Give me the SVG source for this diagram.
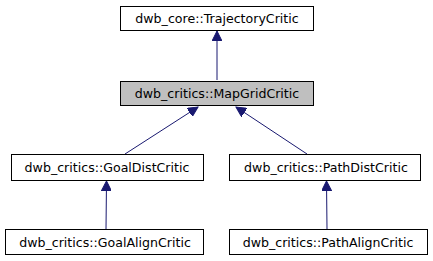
<svg xmlns="http://www.w3.org/2000/svg" width="433" height="261" viewBox="0 0 433 261">
<style>
.n rect{fill:#fff;stroke:#000;stroke-width:1}
.n text{font-family:"DejaVu Sans",sans-serif;font-size:12.6px;fill:#000;text-anchor:middle}
#edges line{stroke:#191970;stroke-width:1}
</style>
<defs>
<marker id="ah" markerWidth="11" markerHeight="10" refX="10" refY="5" orient="auto" markerUnits="userSpaceOnUse">
<path d="M0,0 L10,5 L0,10 Z" fill="#191970" stroke="#191970"/>
</marker>
</defs>
<rect width="433" height="261" fill="#fff"/>
<g id="edges">
<line x1="217" y1="80" x2="217" y2="31" marker-end="url(#ah)"/>
<line x1="125" y1="154" x2="198" y2="107" marker-end="url(#ah)"/>
<line x1="307" y1="154" x2="236" y2="107" marker-end="url(#ah)"/>
<line x1="106" y1="229" x2="106.5" y2="181" marker-end="url(#ah)"/>
<line x1="327" y1="229" x2="326.5" y2="181" marker-end="url(#ah)"/>
</g>
<g id="n_trajectory" class="n"><rect x="120.5" y="6.5" width="193" height="24"/><text x="217" y="23">dwb_core::TrajectoryCritic</text></g>
<g id="n_mapgrid" class="n"><rect x="120.5" y="81.5" width="193" height="24" style="fill:#bfbfbf"/><text x="217" y="98">dwb_critics::MapGridCritic</text></g>
<g id="n_goaldist" class="n"><rect x="11.5" y="154.5" width="192" height="26"/><text x="107" y="172">dwb_critics::GoalDistCritic</text></g>
<g id="n_pathdist" class="n"><rect x="229.5" y="154.5" width="191" height="26"/><text x="326" y="172">dwb_critics::PathDistCritic</text></g>
<g id="n_goalalign" class="n"><rect x="5.5" y="229.5" width="198" height="25"/><text x="105" y="247">dwb_critics::GoalAlignCritic</text></g>
<g id="n_pathalign" class="n"><rect x="229.5" y="229.5" width="198" height="25"/><text x="328" y="247">dwb_critics::PathAlignCritic</text></g>
</svg>
